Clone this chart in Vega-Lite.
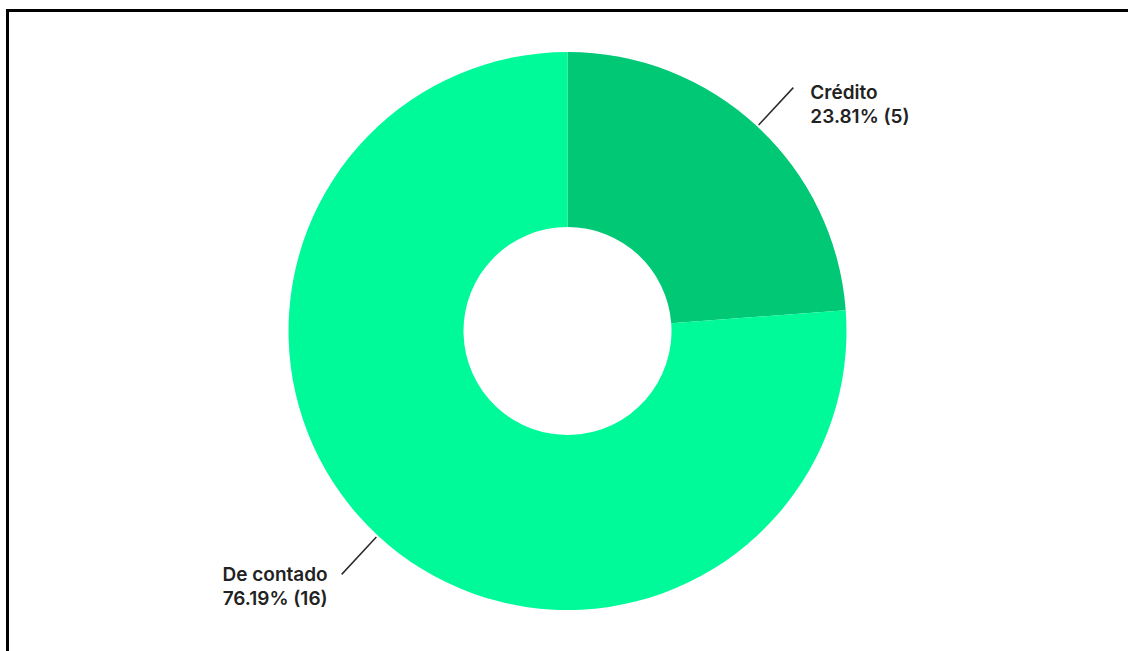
{
  "$schema": "https://vega.github.io/schema/vega-lite/v6.json",
  "width": 1120,
  "height": 641,
  "autosize": {"type": "none"},
  "padding": {"left": 7.5, "top": 10.5, "right": 0, "bottom": 0},
  "background": "white",
  "config": {"view": {"stroke": null}},
  "data": {
    "values": [
      {"category": "Crédito", "count": 5, "label": "Crédito\n23.81% (5)"},
      {"category": "De contado", "count": 16, "label": "De contado\n76.19% (16)"}
    ]
  },
  "layer": [
    {
      "mark": {"type": "point", "opacity": 0},
      "encoding": {
        "x": {"field": "count", "type": "quantitative", "axis": {"orient": "top", "domain": true, "domainColor": "#000000", "domainWidth": 3, "domainCap": "square", "translate": 0, "ticks": false, "labels": false, "grid": false, "title": null}},
        "y": {"field": "count", "type": "quantitative", "axis": {"orient": "left", "domain": true, "domainColor": "#000000", "domainWidth": 3, "domainCap": "square", "translate": 0, "ticks": false, "labels": false, "grid": false, "title": null}}
      }
    },
    {
      "mark": {"type": "arc", "radius": 279, "innerRadius": 104},
      "encoding": {
        "theta": {"field": "count", "type": "quantitative", "stack": true, "scale": {"domain": [0, 21]}},
        "color": {"field": "category", "type": "nominal", "scale": {"domain": ["Crédito", "De contado"], "range": ["#00C875", "#00FA9A"]}, "legend": null}
      }
    },
    {
      "transform": [
        {"stack": "count", "groupby": [], "sort": [{"field": "category", "order": "ascending"}], "as": ["t0", "t1"]},
        {"fold": ["t0", "t1"], "as": ["k", "v"]},
        {"aggregate": [{"op": "mean", "field": "v", "as": "mid"}], "groupby": ["category"]}
      ],
      "mark": {"type": "arc", "filled": false, "stroke": "#2b2b2b", "strokeWidth": 1.5},
      "encoding": {
        "theta": {"field": "mid", "type": "quantitative", "scale": {"domain": [0, 21]}},
        "theta2": {"field": "mid"},
        "radius": {"value": 281},
        "radius2": {"value": 332}
      }
    },
    {
      "mark": {"type": "text", "align": "left", "baseline": "middle", "dx": 15, "dy": 8, "font": "Inter", "fontSize": 19, "fontWeight": 600, "lineHeight": 24, "lineBreak": "\n"},
      "encoding": {
        "theta": {"field": "count", "type": "quantitative", "stack": true, "scale": {"domain": [0, 21]}},
        "color": {"field": "category", "type": "nominal", "legend": null},
        "radius": {"value": 335},
        "text": {"condition": {"test": "datum.category === 'Crédito'", "field": "label"}, "value": ""},
        "fill": {"value": "#222222"}
      }
    },
    {
      "mark": {"type": "text", "align": "right", "baseline": "middle", "dx": -12, "dy": -2, "font": "Inter", "fontSize": 19, "fontWeight": 600, "lineHeight": 24, "lineBreak": "\n"},
      "encoding": {
        "theta": {"field": "count", "type": "quantitative", "stack": true, "scale": {"domain": [0, 21]}},
        "color": {"field": "category", "type": "nominal", "legend": null},
        "radius": {"value": 335},
        "text": {"condition": {"test": "datum.category === 'De contado'", "field": "label"}, "value": ""},
        "fill": {"value": "#222222"}
      }
    }
  ]
}
